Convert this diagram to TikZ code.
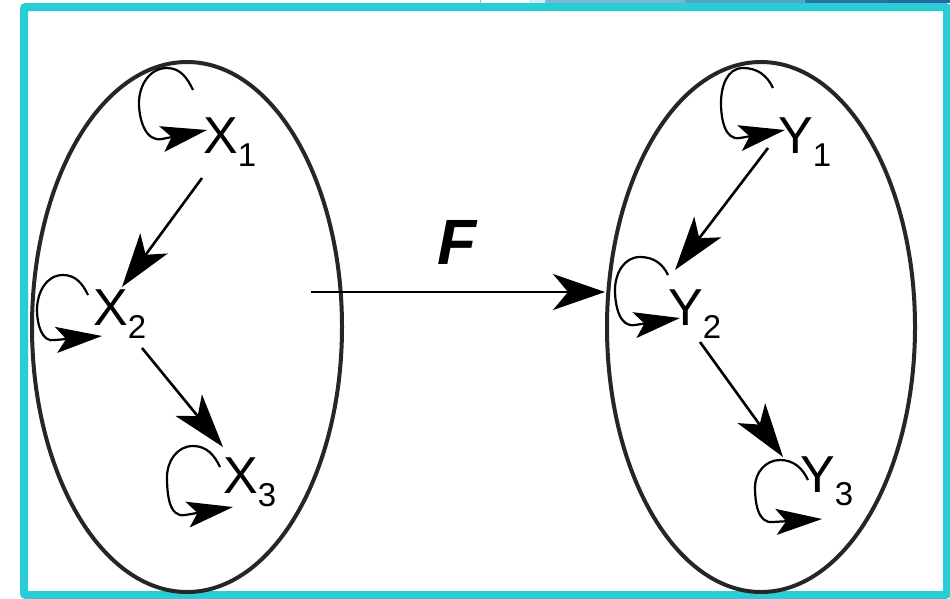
\documentclass[tikz,border=0pt]{standalone}
\usepackage{fontspec}
\setmainfont{Liberation Sans}
\usepackage{xcolor}
\usetikzlibrary{positioning,arrows.meta,shapes.geometric,calc}
\definecolor{framecyan}{RGB}{42,205,214}
\definecolor{setgray}{RGB}{38,38,38}
\definecolor{stripa}{RGB}{214,238,246}
\definecolor{stripb}{RGB}{123,182,212}
\definecolor{stripc}{RGB}{79,166,201}
\definecolor{stripd}{RGB}{43,117,166}
\definecolor{stripe}{RGB}{37,105,160}
\newcommand{\vlabel}[2]{#1\raisebox{-13pt}{\fontsize{33}{33}\selectfont #2}}
\tikzset{
set/.style={
draw=setgray,
ellipse,
line width=4pt,
minimum width=310pt,
minimum height=530pt,
inner sep=0pt
},
var/.style={
inner sep=0pt,
anchor=base west,
font=\fontsize{52}{52}\selectfont
},
arrow/.style={
-{Stealth[length=54pt,width=34pt,inset=14pt]},
line width=2.6pt
},
loopline/.style={
-{Stealth[length=46pt,width=26pt,inset=10pt]},
line width=2.2pt
}
}
\begin{document}
\begin{tikzpicture}[x=1pt,y=1pt]
\useasboundingbox (0,0) rectangle (950,-598);
% frame and top strip
\fill[gray!60] (480,0) rectangle (481,-3);
\fill[stripa] (529,0) rectangle (545,-3);
\fill[stripb] (545,0) rectangle (685,-3);
\fill[stripc] (685,0) rectangle (805,-3);
\fill[stripd] (805,0) rectangle (888,-3);
\fill[stripe] (888,0) rectangle (950,-3);
\draw[framecyan,line width=8pt,rounded corners=2pt] (24,-7) rectangle (947,-595);

% the two sets
\node[set] (xset) at (187,-327) {};
\node[set,minimum width=308pt] (yset) at (761,-327) {};

% variables
\node[var] (x1) at (203,-153) {\vlabel{X}{1}};
\node[var] (x2) at (93,-325) {\vlabel{X}{2}};
\node[var] (x3) at (223,-493) {\vlabel{X}{3}};
\node[var] (y1) at (778,-153) {\vlabel{Y}{1}};
\node[var] (y2) at (668,-325) {\vlabel{Y}{2}};
\node[var] (y3) at (800,-492) {\vlabel{Y}{3}};

% map F
\coordinate (fstart) at (311,-292);
\node[inner sep=0pt,anchor=base west,font=\fontsize{64}{64}\selectfont\bfseries\itshape] (f) at (437,-264) {F};
\draw[arrow,line width=2.6pt,-{Stealth[length=52pt,width=36pt,inset=15pt]}] (fstart) -- (fstart -| yset.west);

% arrows inside the sets
\draw[arrow] ([shift={(-1,-25)}]x1.base west) -- ([shift={(29,38)}]x2.base west);
\draw[arrow] ([shift={(49,-23)}]x2.base west) -- ([shift={(0,46)}]x3.base west);
\draw[arrow] ([shift={(-10,5)}]y1.base west) -- ([shift={(7,55)}]y2.base west);
\draw[arrow] ([shift={(32,-17)}]y2.base west) -- ([shift={(-17,35)}]y3.base west);

% self loops
\draw[loopline] ([shift={(-10,63)}]x1.base west) to[out=115,in=0] ([shift={(-36,85)}]x1.base west)
  to[out=180,in=90] ([shift={(-64,50)}]x1.base west) to[out=-90,in=191] ([shift={(-41,14)}]x1.base west)
  -- ([shift={(4,23)}]x1.base west);
\draw[loopline] ([shift={(-5,30)}]x2.base west) to[out=115,in=0] ([shift={(-30,50)}]x2.base west)
  to[out=180,in=90] ([shift={(-56,15)}]x2.base west) to[out=-90,in=193] ([shift={(-38,-15)}]x2.base west)
  -- ([shift={(9,-11)}]x2.base west);
\draw[loopline] ([shift={(-3,26)}]x3.base west) to[out=115,in=0] ([shift={(-30,47)}]x3.base west)
  to[out=180,in=90] ([shift={(-56,16)}]x3.base west) to[out=-90,in=190] ([shift={(-38,-22)}]x3.base west)
  -- ([shift={(10,-14)}]x3.base west);
\draw[loopline] ([shift={(-5,65)}]y1.base west) to[out=115,in=0] ([shift={(-35,85)}]y1.base west)
  to[out=180,in=90] ([shift={(-57,50)}]y1.base west) to[out=-90,in=190] ([shift={(-38,15)}]y1.base west)
  -- ([shift={(7,23)}]y1.base west);
\draw[loopline] ([shift={(0,50)}]y2.base west) to[out=115,in=0] ([shift={(-28,68)}]y2.base west)
  to[out=180,in=90] ([shift={(-53,35)}]y2.base west) to[out=-90,in=190] ([shift={(-33,0)}]y2.base west)
  -- ([shift={(12,7)}]y2.base west);
\draw[loopline] ([shift={(8,12)}]y3.base west) to[out=115,in=0] ([shift={(-20,32)}]y3.base west)
  to[out=180,in=90] ([shift={(-45,5)}]y3.base west) to[out=-90,in=187] ([shift={(-27,-30)}]y3.base west)
  -- ([shift={(22,-27)}]y3.base west);
\end{tikzpicture}
\end{document}
